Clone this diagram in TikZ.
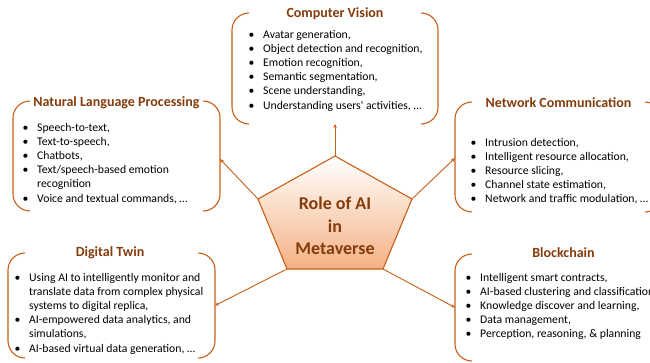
\documentclass[tikz,border=0pt]{standalone}
\usepackage{fontspec}
\setmainfont{Carlito}
\usetikzlibrary{arrows.meta}
\definecolor{lineor}{RGB}{200,95,25}
\definecolor{titlebr}{RGB}{132,60,12}
\definecolor{pentfill}{RGB}{244,177,131}
\newcommand{\mybul}{\makebox[14.5pt][l]{\textbullet}}
\newcommand{\mycont}{\hspace*{14.5pt}}
\newcommand{\mybrackets}[1]{%
  \draw[brk] ([xshift=17pt]#1.north west) -- (#1.north west) -- (#1.south west) -- ([xshift=17pt]#1.south west);
  \draw[brk] ([xshift=-17pt]#1.north east) -- (#1.north east) -- (#1.south east) -- ([xshift=-17pt]#1.south east);}
\tikzset{
  brk/.style={draw=lineor, line width=1.1pt, rounded corners=17pt},
  boxarea/.style={inner sep=0pt, outer sep=0pt},
  ttl/.style={font=\fontsize{14}{16}\selectfont\bfseries, text=titlebr, inner sep=0pt, anchor=base},
  lst/.style={font=\fontsize{11.7}{14.2}\selectfont, align=left, anchor=north west, inner sep=0pt},
  arr/.style={draw=lineor, line width=0.9pt, -{Stealth[length=4pt,width=3.5pt]}},
  pent/.style={draw=lineor, line width=1.1pt, top color=white, bottom color=pentfill},
  role/.style={font=\fontsize{18}{22.5}\selectfont\bfseries, text=titlebr, align=center, inner sep=0pt}
}
\begin{document}
\begin{tikzpicture}[x=1pt,y=-1pt]
\useasboundingbox (0,0) rectangle (650,362);
\clip (0,0) rectangle (650,362);
\fill[white] (0,0) rectangle (650,362);

% box areas
\node[boxarea, minimum width=206pt, minimum height=111pt] (cv) at (335,68.5) {};
\node[boxarea, minimum width=207pt, minimum height=110pt] (nlp) at (116.5,156) {};
\node[boxarea, minimum width=207pt, minimum height=110pt] (nc) at (558.5,157) {};
\node[boxarea, minimum width=207pt, minimum height=105pt] (dt) at (111.5,305.5) {};
\node[boxarea, minimum width=217pt, minimum height=107pt] (bc) at (563.5,307.5) {};

\mybrackets{cv}
\mybrackets{nlp}
\mybrackets{nc}
\mybrackets{dt}
\mybrackets{bc}

% titles
\node[ttl] (cvt) at (335,17) {Computer Vision};
\node[ttl] (nlpt) at (116.5,106) {Natural Language Processing};
\node[ttl] (nct) at (558.5,107) {Network Communication};
\node[ttl] (dtt) at (110,256) {Digital Twin};
\node[ttl] (bct) at (563.5,257) {Blockchain};

% lists
\node[lst] (cvl) at (248.5,28) {\strut\mybul Avatar generation,\\
\mybul Object detection and recognition,\\
\mybul Emotion recognition,\\
\mybul Semantic segmentation,\\
\mybul Scene understanding,\\
\mybul Understanding users\textquotesingle\ activities, …};
\node[lst] (nlpl) at (22.5,121) {\strut\mybul Speech-to-text,\\
\mybul Text-to-speech,\\
\mybul Chatbots,\\
\mybul Text/speech-based emotion\\
\mycont recognition\\
\mybul Voice and textual commands, …};
\node[lst] (ncl) at (470.5,136) {\strut\mybul Intrusion detection,\\
\mybul Intelligent resource allocation,\\
\mybul Resource slicing,\\
\mybul Channel state estimation,\\
\mybul Network and traffic modulation, …};
\node[lst] (dtl) at (14.5,271) {\strut\mybul Using AI to intelligently monitor and\\
\mycont translate data from complex physical\\
\mycont systems to digital replica,\\
\mybul AI-empowered data analytics, and\\
\mycont simulations,\\
\mybul AI-based virtual data generation, …};
\node[lst] (bcl) at (465.5,271) {\strut\mybul Intelligent smart contracts,\\
\mybul AI-based clustering and classification,\\
\mybul Knowledge discover and learning,\\
\mybul Data management,\\
\mybul Perception, reasoning, \& planning};

% pentagon
\coordinate (p1) at (335,156);
\coordinate (p2) at (412,199);
\coordinate (p3) at (383,269);
\coordinate (p4) at (287,269);
\coordinate (p5) at (258,199);
\path[pent] (p1) -- (p2) -- (p3) -- (p4) -- (p5) -- cycle;
\node[role] (rl) at (335,226) {Role of AI\\in\\Metaverse};

% connectors
\draw[arr] (p1) -- (cv.south);
\draw[arr] (p5) -- ([yshift=-3pt]nlp.east);
\draw[arr] (p2) -- ([yshift=-1pt]nc.west);
\draw[arr] (p4) -- (dt.east);
\draw[arr] (p3) -- (bc.west);
\end{tikzpicture}
\end{document}
